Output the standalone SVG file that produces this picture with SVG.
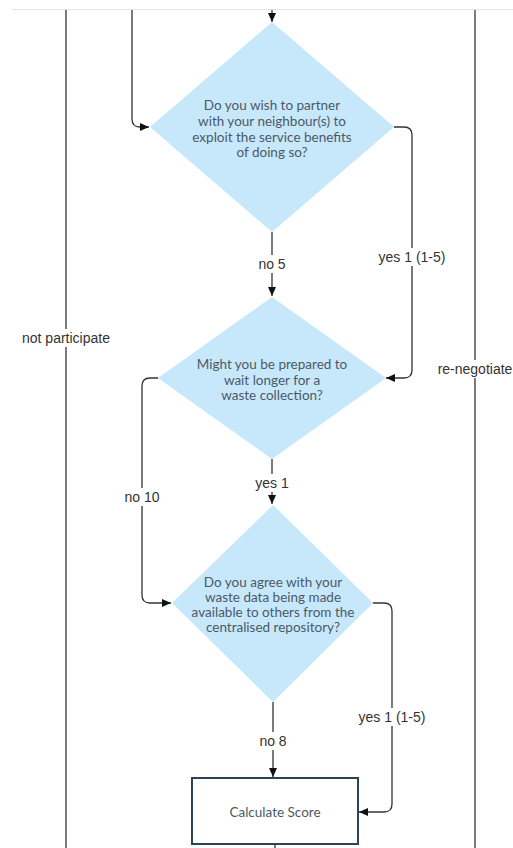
<svg xmlns="http://www.w3.org/2000/svg" width="513" height="848" viewBox="0 0 513 848">
<style>
.bg{fill:#ffffff}
.dia{fill:#c7e8fb;stroke:none}
.box{fill:#ffffff;stroke:#2e4256;stroke-width:2}
.nt{font-family:Lato,"Open Sans",sans-serif;font-size:13.5px;fill:#4d5866;text-anchor:middle}
.ln{fill:none;stroke:#333333;stroke-width:1.3}
.lb{font-family:"Liberation Sans",Arial,sans-serif;font-size:14px;fill:#333333;text-anchor:middle}
.lbg{fill:#ffffff}
</style>
<defs>
<marker id="ah" markerWidth="10" markerHeight="10" refX="9" refY="5" orient="auto" markerUnits="userSpaceOnUse">
<path d="M0,1 L9,5 L0,9 Z" fill="#111111"/>
</marker>
</defs>
<rect class="bg" x="0" y="0" width="513" height="848"/>
<line x1="12" y1="9.5" x2="513" y2="9.5" stroke="#e3e3e3" stroke-width="1"/>

<g id="connectors">
<line class="ln" x1="66" y1="10" x2="66" y2="848"/>
<line class="ln" x1="475" y1="10" x2="475" y2="848"/>
<path class="ln" d="M132,10 V119 Q132,127 140,127 H149" marker-end="url(#ah)"/>
<line class="ln" x1="272" y1="10" x2="272" y2="22" marker-end="url(#ah)"/>
<line class="ln" x1="272" y1="232" x2="272" y2="296" marker-end="url(#ah)"/>
<path class="ln" d="M394,127 H404 Q412,127 412,135 V370 Q412,378 404,378 H386" marker-end="url(#ah)"/>
<line class="ln" x1="272" y1="459" x2="272" y2="504" marker-end="url(#ah)"/>
<path class="ln" d="M158,378 H150 Q142,378 142,386 V595 Q142,603 150,603 H171" marker-end="url(#ah)"/>
<line class="ln" x1="273" y1="702" x2="273" y2="777" marker-end="url(#ah)"/>
<path class="ln" d="M373,603 H384 Q392,603 392,611 V804 Q392,812 384,812 H359" marker-end="url(#ah)"/>
<line class="ln" x1="275" y1="844" x2="275" y2="848"/>

<rect class="lbg" x="19" y="329" width="94" height="18"/>
<text class="lb" x="66" y="343">not participate</text>
<rect class="lbg" x="436" y="360" width="77" height="18"/>
<text class="lb" x="475" y="374">re-negotiate</text>
<rect class="lbg" x="254" y="255" width="36" height="18"/>
<text class="lb" x="272" y="269">no 5</text>
<rect class="lbg" x="377" y="248" width="70" height="18"/>
<text class="lb" x="412" y="262">yes 1 (1-5)</text>
<rect class="lbg" x="252" y="474" width="40" height="18"/>
<text class="lb" x="272" y="488">yes 1</text>
<rect class="lbg" x="121" y="488" width="42" height="18"/>
<text class="lb" x="142" y="502">no 10</text>
<rect class="lbg" x="255" y="732" width="36" height="18"/>
<text class="lb" x="273" y="746">no 8</text>
<rect class="lbg" x="357" y="708" width="70" height="18"/>
<text class="lb" x="392" y="722">yes 1 (1-5)</text>
</g>

<g id="q1">
<polygon class="dia" points="272,22 394,127 272,232 150,127"/>
<text class="nt" x="272" y="110">Do you wish to partner</text>
<text class="nt" x="272" y="126">with your neighbour(s) to</text>
<text class="nt" x="272" y="142">exploit the service benefits</text>
<text class="nt" x="272" y="157">of doing so?</text>
</g>

<g id="q2">
<polygon class="dia" points="272,297 386,378 272,459 158,378"/>
<text class="nt" x="272" y="369">Might you be prepared to</text>
<text class="nt" x="272" y="385">wait longer for a</text>
<text class="nt" x="272" y="400">waste collection?</text>
</g>

<g id="q3">
<polygon class="dia" points="273,505 373,603 273,702 172,603"/>
<text class="nt" x="273" y="587">Do you agree with your</text>
<text class="nt" x="273" y="602">waste data being made</text>
<text class="nt" x="273" y="617">available to others from the</text>
<text class="nt" x="273" y="632">centralised repository?</text>
</g>

<g id="score">
<rect class="box" x="192" y="778" width="166" height="66"/>
<text class="nt" x="275" y="817">Calculate Score</text>
</g>
</svg>
